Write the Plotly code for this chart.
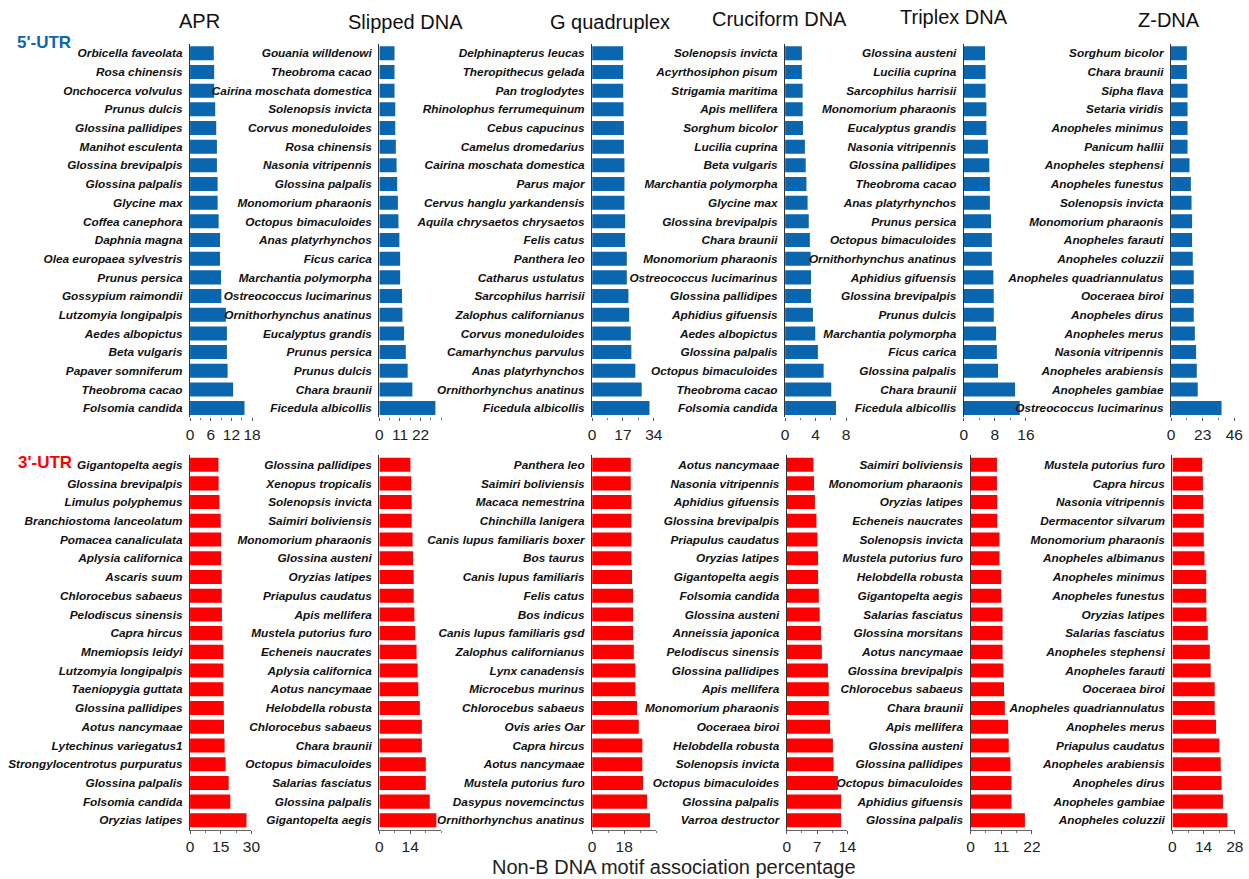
import plotly.graph_objects as go

# ---------------- 5'-UTR ----------------
apr5_species = ["Orbicella faveolata", "Rosa chinensis", "Onchocerca volvulus", "Prunus dulcis",
                "Glossina pallidipes", "Manihot esculenta", "Glossina brevipalpis", "Glossina palpalis",
                "Glycine max", "Coffea canephora", "Daphnia magna", "Olea europaea sylvestris",
                "Prunus persica", "Gossypium raimondii", "Lutzomyia longipalpis", "Aedes albopictus",
                "Beta vulgaris", "Papaver somniferum", "Theobroma cacao", "Folsomia candida"]
apr5_values = [6.9, 7.0, 7.0, 7.3, 7.6, 7.8, 7.8, 8.0, 8.0, 8.3, 8.7, 8.7, 9.0, 9.1, 10.4, 10.7,
               10.7, 10.9, 12.5, 15.8]

slipped5_species = ["Gouania willdenowi", "Theobroma cacao", "Cairina moschata domestica",
                    "Solenopsis invicta", "Corvus moneduloides", "Rosa chinensis", "Nasonia vitripennis",
                    "Glossina palpalis", "Monomorium pharaonis", "Octopus bimaculoides",
                    "Anas platyrhynchos", "Ficus carica", "Marchantia polymorpha",
                    "Ostreococcus lucimarinus", "Ornithorhynchus anatinus", "Eucalyptus grandis",
                    "Prunus persica", "Prunus dulcis", "Chara braunii", "Ficedula albicollis"]
slipped5_values = [8.1, 8.1, 8.1, 8.5, 8.5, 8.8, 9.2, 9.5, 9.9, 10.2, 10.7, 11.1, 11.1, 12.1, 12.3,
                   13.2, 14.1, 15.1, 17.6, 29.9]

g4_5_species = ["Delphinapterus leucas", "Theropithecus gelada", "Pan troglodytes",
                "Rhinolophus ferrumequinum", "Cebus capucinus", "Camelus dromedarius",
                "Cairina moschata domestica", "Parus major", "Cervus hanglu yarkandensis",
                "Aquila chrysaetos chrysaetos", "Felis catus", "Panthera leo", "Catharus ustulatus",
                "Sarcophilus harrisii", "Zalophus californianus", "Corvus moneduloides",
                "Camarhynchus parvulus", "Anas platyrhynchos", "Ornithorhynchus anatinus",
                "Ficedula albicollis"]
g4_5_values = [17.1, 17.1, 17.1, 17.3, 17.5, 17.5, 17.8, 17.8, 17.8, 18.2, 18.2, 19.1, 19.1, 20.0,
               20.4, 21.3, 21.6, 23.8, 27.3, 31.6]

cruciform5_species = ["Solenopsis invicta", "Acyrthosiphon pisum", "Strigamia maritima",
                      "Apis mellifera", "Sorghum bicolor", "Lucilia cuprina", "Beta vulgaris",
                      "Marchantia polymorpha", "Glycine max", "Glossina brevipalpis", "Chara braunii",
                      "Monomorium pharaonis", "Ostreococcus lucimarinus", "Glossina pallidipes",
                      "Aphidius gifuensis", "Aedes albopictus", "Glossina palpalis",
                      "Octopus bimaculoides", "Theobroma cacao", "Folsomia candida"]
cruciform5_values = [2.2, 2.2, 2.3, 2.3, 2.35, 2.6, 2.7, 2.8, 2.95, 3.1, 3.25, 3.35, 3.4, 3.4, 3.65,
                     3.95, 4.3, 5.05, 6.05, 6.67]

triplex5_species = ["Glossina austeni", "Lucilia cuprina", "Sarcophilus harrisii",
                    "Monomorium pharaonis", "Eucalyptus grandis", "Nasonia vitripennis",
                    "Glossina pallidipes", "Theobroma cacao", "Anas platyrhynchos", "Prunus persica",
                    "Octopus bimaculoides", "Ornithorhynchus anatinus", "Aphidius gifuensis",
                    "Glossina brevipalpis", "Prunus dulcis", "Marchantia polymorpha", "Ficus carica",
                    "Glossina palpalis", "Chara braunii", "Ficedula albicollis"]
triplex5_values = [5.45, 5.6, 5.6, 5.8, 5.8, 6.2, 6.55, 6.7, 6.7, 7.0, 7.2, 7.2, 7.6, 7.7, 7.7, 8.3,
                   8.5, 8.8, 13.2, 14.4]

zdna5_species = ["Sorghum bicolor", "Chara braunii", "Sipha flava", "Setaria viridis",
                 "Anopheles minimus", "Panicum hallii", "Anopheles stephensi", "Anopheles funestus",
                 "Solenopsis invicta", "Monomorium pharaonis", "Anopheles farauti",
                 "Anopheles coluzzii", "Anopheles quadriannulatus", "Ooceraea biroi",
                 "Anopheles dirus", "Anopheles merus", "Nasonia vitripennis", "Anopheles arabiensis",
                 "Anopheles gambiae", "Ostreococcus lucimarinus"]
zdna5_values = [11.5, 11.5, 12.0, 12.0, 12.0, 12.0, 13.4, 14.4, 14.9, 15.3, 15.3, 15.8, 16.5, 16.5,
                16.5, 17.3, 18.2, 18.7, 19.4, 36.7]

# ---------------- 3'-UTR ----------------
apr3_species = ["Gigantopelta aegis", "Glossina brevipalpis", "Limulus polyphemus",
                "Branchiostoma lanceolatum", "Pomacea canaliculata", "Aplysia californica",
                "Ascaris suum", "Chlorocebus sabaeus", "Pelodiscus sinensis", "Capra hircus",
                "Mnemiopsis leidyi", "Lutzomyia longipalpis", "Taeniopygia guttata",
                "Glossina pallidipes", "Aotus nancymaae", "Lytechinus variegatus1",
                "Strongylocentrotus purpuratus", "Glossina palpalis", "Folsomia candida",
                "Oryzias latipes"]
apr3_values = [13.9, 14.0, 14.4, 15.0, 15.2, 15.2, 15.5, 15.5, 15.6, 15.8, 16.3, 16.3, 16.3, 16.5,
               16.6, 16.9, 17.4, 18.9, 19.7, 27.6]

slipped3_species = ["Glossina pallidipes", "Xenopus tropicalis", "Solenopsis invicta",
                    "Saimiri boliviensis", "Monomorium pharaonis", "Glossina austeni",
                    "Oryzias latipes", "Priapulus caudatus", "Apis mellifera", "Mustela putorius furo",
                    "Echeneis naucrates", "Aplysia californica", "Aotus nancymaae",
                    "Helobdella robusta", "Chlorocebus sabaeus", "Chara braunii",
                    "Octopus bimaculoides", "Salarias fasciatus", "Glossina palpalis",
                    "Gigantopelta aegis"]
slipped3_values = [14.1, 14.5, 14.7, 14.7, 15.1, 15.3, 15.6, 15.6, 15.9, 16.3, 16.9, 17.4, 17.7,
                   18.4, 19.3, 19.3, 21.1, 21.1, 22.9, 25.9]

g4_3_species = ["Panthera leo", "Saimiri boliviensis", "Macaca nemestrina", "Chinchilla lanigera",
                "Canis lupus familiaris boxer", "Bos taurus", "Canis lupus familiaris", "Felis catus",
                "Bos indicus", "Canis lupus familiaris gsd", "Zalophus californianus",
                "Lynx canadensis", "Microcebus murinus", "Chlorocebus sabaeus", "Ovis aries Oar",
                "Capra hircus", "Aotus nancymaae", "Mustela putorius furo", "Dasypus novemcinctus",
                "Ornithorhynchus anatinus"]
g4_3_values = [21.7, 21.7, 22.1, 22.1, 22.1, 22.1, 22.4, 23.0, 23.0, 23.0, 23.4, 24.3, 24.3, 25.2,
               26.2, 28.2, 28.2, 28.6, 30.8, 32.5]

cruciform3_species = ["Aotus nancymaae", "Nasonia vitripennis", "Aphidius gifuensis",
                      "Glossina brevipalpis", "Priapulus caudatus", "Oryzias latipes",
                      "Gigantopelta aegis", "Folsomia candida", "Glossina austeni",
                      "Anneissia japonica", "Pelodiscus sinensis", "Glossina pallidipes",
                      "Apis mellifera", "Monomorium pharaonis", "Ooceraea biroi",
                      "Helobdella robusta", "Solenopsis invicta", "Octopus bimaculoides",
                      "Glossina palpalis", "Varroa destructor"]
cruciform3_values = [6.16, 6.3, 6.5, 6.85, 7.08, 7.23, 7.23, 7.4, 7.6, 7.9, 8.1, 9.5, 9.7, 9.7,
                     10.0, 10.65, 10.8, 11.8, 12.55, 12.55]

triplex3_species = ["Saimiri boliviensis", "Monomorium pharaonis", "Oryzias latipes",
                    "Echeneis naucrates", "Solenopsis invicta", "Mustela putorius furo",
                    "Helobdella robusta", "Gigantopelta aegis", "Salarias fasciatus",
                    "Glossina morsitans", "Aotus nancymaae", "Glossina brevipalpis",
                    "Chlorocebus sabaeus", "Chara braunii", "Apis mellifera", "Glossina austeni",
                    "Glossina pallidipes", "Octopus bimaculoides", "Aphidius gifuensis",
                    "Glossina palpalis"]
triplex3_values = [9.47, 9.47, 9.6, 9.6, 10.4, 10.4, 11.0, 11.0, 11.5, 11.5, 11.5, 11.8, 12.0, 12.3,
                   13.5, 13.7, 14.3, 14.7, 14.7, 19.5]

zdna3_species = ["Mustela putorius furo", "Capra hircus", "Nasonia vitripennis",
                 "Dermacentor silvarum", "Monomorium pharaonis", "Anopheles albimanus",
                 "Anopheles minimus", "Anopheles funestus", "Oryzias latipes", "Salarias fasciatus",
                 "Anopheles stephensi", "Anopheles farauti", "Ooceraea biroi",
                 "Anopheles quadriannulatus", "Anopheles merus", "Priapulus caudatus",
                 "Anopheles arabiensis", "Anopheles dirus", "Anopheles gambiae", "Anopheles coluzzii"]
zdna3_values = [13.4, 13.7, 13.8, 14.1, 14.1, 14.4, 15.2, 15.2, 15.3, 15.9, 16.8, 17.2, 19.0, 19.0,
                19.6, 21.1, 21.7, 22.1, 22.7, 24.7]

motif_titles = ["APR", "Slipped DNA", "G quadruplex", "Cruciform DNA", "Triplex DNA", "Z-DNA"]

# axis maxima and labelled ticks for each panel
top_ranges = [18, 33, 34, 8, 16, 46]
top_ticks = [[0, 6, 12, 18], [0, 11, 22], [0, 17, 34], [0, 4, 8], [0, 8, 16], [0, 23, 46]]
bottom_ranges = [30, 28, 36, 14, 22, 28]
bottom_ticks = [[0, 15, 30], [0, 14], [0, 18], [0, 7, 14], [0, 11, 22], [0, 14, 28]]

top_data = [(apr5_species, apr5_values), (slipped5_species, slipped5_values),
            (g4_5_species, g4_5_values), (cruciform5_species, cruciform5_values),
            (triplex5_species, triplex5_values), (zdna5_species, zdna5_values)]
bottom_data = [(apr3_species, apr3_values), (slipped3_species, slipped3_values),
               (g4_3_species, g4_3_values), (cruciform3_species, cruciform3_values),
               (triplex3_species, triplex3_values), (zdna3_species, zdna3_values)]

W, H = 1249, 879
BLUE = "#0b66b0"
RED = "#ff0000"
FONT = "Liberation Sans, Arial, Helvetica, sans-serif"

# panel geometry in pixels (left edge of the value axis, axis length)
top_left = [188, 379.3, 594.3, 789.3, 970, 1179.3]
top_len = [62.7, 62.5, 62.4, 61.7, 62.7, 64]
bottom_left = [188, 379.3, 594.3, 791, 976.7, 1180.7]
bottom_len = [62, 62.3, 64.8, 61.3, 62, 63]
top_band = (44, 417.4)
bottom_band = (455.3, 829.7)

fig = go.Figure()
layout = dict(width=W, height=H, margin=dict(l=0, r=0, t=0, b=0),
              paper_bgcolor="white", plot_bgcolor="white", showlegend=False,
              bargap=0.25, font=dict(family=FONT, color="#111"))


def add_panel(idx, species, values, color, left, length, band, rng, ticks, show_xline):
    xa = "x" if idx == 1 else f"x{idx}"
    ya = "y" if idx == 1 else f"y{idx}"
    fig.add_trace(go.Bar(x=values, y=species, orientation="h", marker_color=color,
                         marker_line_width=0, width=0.75, xaxis=xa, yaxis=ya))
    step = ticks[1] - ticks[0]
    layout["xaxis" if idx == 1 else f"xaxis{idx}"] = dict(
        domain=[left / W, (left + length) / W], anchor=ya, range=[0, rng],
        tickmode="array", tickvals=ticks, ticks="outside", ticklen=3, tickwidth=1,
        tickcolor="#555", showgrid=False, zeroline=False,
        showline=show_xline, linecolor="#666", linewidth=1,
        tickfont=dict(size=15.5, color="#222", family=FONT),
        minor=dict(tick0=0, dtick=step / 2, ticks="outside", ticklen=2, tickcolor="#777"),
        fixedrange=True)
    layout["yaxis" if idx == 1 else f"yaxis{idx}"] = dict(
        domain=[1 - band[1] / H, 1 - band[0] / H], anchor=xa, type="category",
        categoryorder="array", categoryarray=species, autorange="reversed",
        showline=True, linecolor="#333", linewidth=1.3, ticks="", showgrid=False,
        ticklabelstandoff=4,
        tickfont=dict(size=11.8, color="#111", family=FONT, weight="bold", style="italic"),
        fixedrange=True)


for i, (sp, vals) in enumerate(top_data):
    add_panel(i + 1, sp, vals, BLUE, top_left[i], top_len[i], top_band,
              top_ranges[i], top_ticks[i], False)
for i, (sp, vals) in enumerate(bottom_data):
    add_panel(i + 7, sp, vals, RED, bottom_left[i], bottom_len[i], bottom_band,
              bottom_ranges[i], bottom_ticks[i], True)

# column headings
title_x = [198, 406, 612, 784, 960, 1177]
title_y = [21, 22, 22, 19, 17, 20]
annotations = []
for t, x, y in zip(motif_titles, title_x, title_y):
    annotations.append(dict(text=t, x=x / W, y=1 - y / H, xref="paper", yref="paper",
                            showarrow=False, xanchor="center", yanchor="middle",
                            font=dict(size=20, color="#111", family=FONT)))

annotations.append(dict(text="5'-UTR", x=11 / W, y=1 - 43 / H, xref="paper", yref="paper",
                        showarrow=False, xanchor="left", yanchor="middle",
                        font=dict(size=17, color=BLUE, family=FONT, weight="bold")))
annotations.append(dict(text="3'-UTR", x=12 / W, y=1 - 462 / H, xref="paper", yref="paper",
                        showarrow=False, xanchor="left", yanchor="middle",
                        font=dict(size=17, color=RED, family=FONT, weight="bold")))
annotations.append(dict(text="Non-B DNA motif association percentage", x=677 / W, y=1 - 867 / H,
                        xref="paper", yref="paper", showarrow=False, xanchor="center",
                        yanchor="middle", font=dict(size=20, color="#222", family=FONT)))
layout["annotations"] = annotations

fig.update_layout(**layout)
fig.write_html("out.html")
